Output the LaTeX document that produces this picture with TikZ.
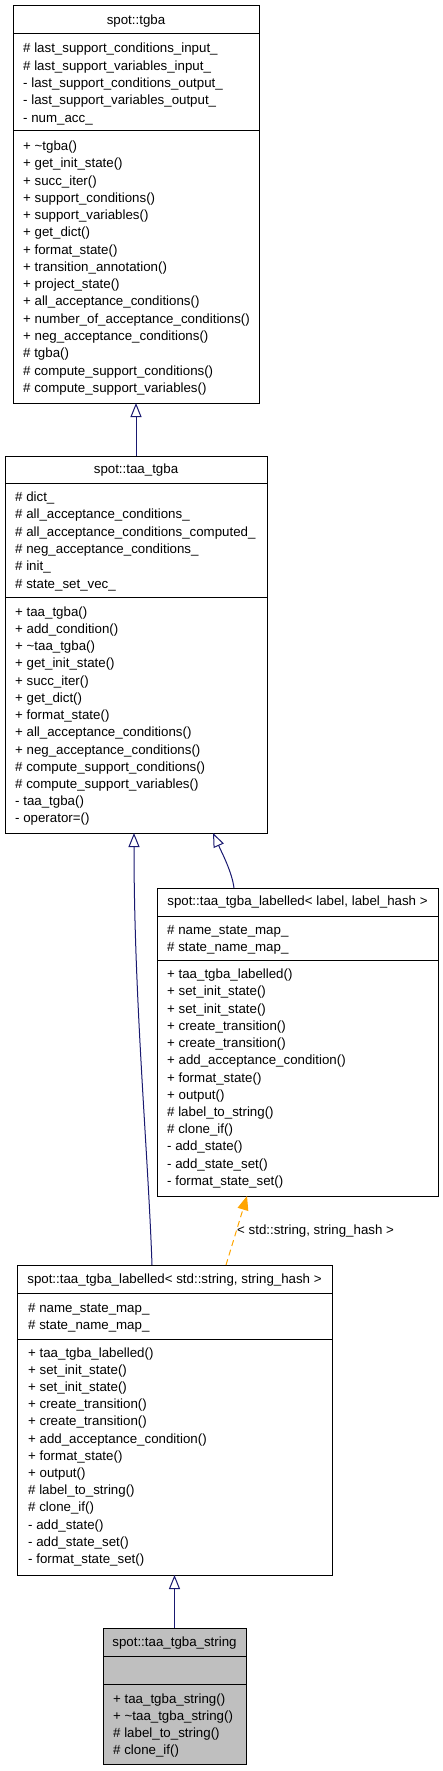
\documentclass[tikz,border=0pt]{standalone}
\usepackage{fontspec}
\setmainfont{Liberation Sans}
\usetikzlibrary{arrows.meta}
\definecolor{navy}{HTML}{191970}
\definecolor{dorange}{HTML}{FFA500}
\definecolor{boxgray}{HTML}{BFBFBF}
\tikzset{
  umlbox/.style={draw=black, line width=1pt, fill=white, anchor=north west, inner sep=0pt, outer sep=0pt},
  sepline/.style={draw=black, line width=1pt},
  member/.style={anchor=base west, inner sep=0pt, font=\fontsize{13.3}{15}\selectfont},
  umltitle/.style={anchor=base, inner sep=0pt, font=\fontsize{13.3}{15}\selectfont},
  inh/.style={draw=navy, line width=1pt, -{Triangle[open, length=14pt, width=11pt, fill=white]}},
  tmpl/.style={draw=dorange, line width=1pt, dash pattern=on 6pt off 4pt, -{Triangle[length=14pt, width=11pt, fill=dorange]}}
}
\begin{document}
\begin{tikzpicture}[x=1pt, y=-1pt]
\useasboundingbox (0,0) rectangle (443,1771);

% ---------- spot::tgba ----------
\node[umlbox, minimum width=246pt, minimum height=397pt] (b1) at (13,6) {};
\draw[sepline] (b1.west |- 0,34) -- (b1.east |- 0,34);
\draw[sepline] (b1.west |- 0,131) -- (b1.east |- 0,131);
\node[umltitle] (b1t) at (136,24.5) {spot::tgba};
\foreach \t [count=\i from 0] in {\# last\_support\_conditions\_input\_, \# last\_support\_variables\_input\_, - last\_support\_conditions\_output\_, - last\_support\_variables\_output\_, - num\_acc\_}
  \node[member] (b1a\i) at (23, 53+\i*17.3) {\t};
\foreach \t [count=\i from 0] in {+ \textasciitilde tgba(), + get\_init\_state(), + succ\_iter(), + support\_conditions(), + support\_variables(), + get\_dict(), + format\_state(), + transition\_annotation(), + project\_state(), + all\_acceptance\_conditions(), + number\_of\_acceptance\_conditions(), + neg\_acceptance\_conditions(), \# tgba(), \# compute\_support\_conditions(), \# compute\_support\_variables()}
  \node[member] (b1m\i) at (23, 150.5+\i*17.27) {\t};

% ---------- spot::taa_tgba ----------
\node[umlbox, minimum width=262pt, minimum height=377pt] (b2) at (5,456) {};
\draw[sepline] (b2.west |- 0,483) -- (b2.east |- 0,483);
\draw[sepline] (b2.west |- 0,597) -- (b2.east |- 0,597);
\node[umltitle] (b2t) at (136,473.5) {spot::taa\_tgba};
\foreach \t [count=\i from 0] in {\# dict\_, \# all\_acceptance\_conditions\_, \# all\_acceptance\_conditions\_computed\_, \# neg\_acceptance\_conditions\_, \# init\_, \# state\_set\_vec\_}
  \node[member] (b2a\i) at (15, 501.5+\i*17.3) {\t};
\foreach \t [count=\i from 0] in {+ taa\_tgba(), + add\_condition(), + \textasciitilde taa\_tgba(), + get\_init\_state(), + succ\_iter(), + get\_dict(), + format\_state(), + all\_acceptance\_conditions(), + neg\_acceptance\_conditions(), \# compute\_support\_conditions(), \# compute\_support\_variables(), - taa\_tgba(), - operator=()}
  \node[member] (b2m\i) at (15, 616.3+\i*17.22) {\t};

% ---------- spot::taa_tgba_labelled< label, label_hash > ----------
\node[umlbox, minimum width=281pt, minimum height=308pt] (b3) at (157,888) {};
\draw[sepline] (b3.west |- 0,916) -- (b3.east |- 0,916);
\draw[sepline] (b3.west |- 0,960) -- (b3.east |- 0,960);
\node[umltitle] (b3t) at (297.5,905) {spot::taa\_tgba\_labelled< label, label\_hash >};
\foreach \t [count=\i from 0] in {\# name\_state\_map\_, \# state\_name\_map\_}
  \node[member] (b3a\i) at (167, 934.5+\i*17.3) {\t};
\foreach \t [count=\i from 0] in {+ taa\_tgba\_labelled(), + set\_init\_state(), + set\_init\_state(), + create\_transition(), + create\_transition(), + add\_acceptance\_condition(), + format\_state(), + output(), \# label\_to\_string(), \# clone\_if(), - add\_state(), - add\_state\_set(), - format\_state\_set()}
  \node[member] (b3m\i) at (167, 978.7+\i*17.22) {\t};

% ---------- spot::taa_tgba_labelled< std::string, string_hash > ----------
\node[umlbox, minimum width=315pt, minimum height=310pt] (b4) at (17,1265) {};
\draw[sepline] (b4.west |- 0,1293) -- (b4.east |- 0,1293);
\draw[sepline] (b4.west |- 0,1339) -- (b4.east |- 0,1339);
\node[umltitle] (b4t) at (174.5,1283) {spot::taa\_tgba\_labelled< std::string, string\_hash >};
\foreach \t [count=\i from 0] in {\# name\_state\_map\_, \# state\_name\_map\_}
  \node[member] (b4a\i) at (28, 1312+\i*17.3) {\t};
\foreach \t [count=\i from 0] in {+ taa\_tgba\_labelled(), + set\_init\_state(), + set\_init\_state(), + create\_transition(), + create\_transition(), + add\_acceptance\_condition(), + format\_state(), + output(), \# label\_to\_string(), \# clone\_if(), - add\_state(), - add\_state\_set(), - format\_state\_set()}
  \node[member] (b4m\i) at (28, 1357+\i*17.22) {\t};

% ---------- spot::taa_tgba_string ----------
\node[umlbox, fill=boxgray, minimum width=143pt, minimum height=136pt] (b5) at (103,1628) {};
\draw[sepline] (b5.west |- 0,1656) -- (b5.east |- 0,1656);
\draw[sepline] (b5.west |- 0,1684) -- (b5.east |- 0,1684);
\node[umltitle] (b5t) at (174.5,1646) {spot::taa\_tgba\_string};
\foreach \t [count=\i from 0] in {+ taa\_tgba\_string(), + \textasciitilde taa\_tgba\_string(), \# label\_to\_string(), \# clone\_if()}
  \node[member] (b5m\i) at (113, 1703+\i*17.3) {\t};

% ---------- connectors ----------
\draw[inh] (b2.north) -- (b1.south);
\draw[inh] (b4.north -| 152,0) .. controls (148,1150) and (134,1000) .. (b2.south -| 134,0);
\draw[inh] (b3.north -| 234,0) .. controls (232,872) and (222,853) .. (b2.south -| 213,0);
\draw[tmpl] (b4.north -| 226,0) -- (b3.south -| 247,0);
\node[member] (tlab) at (237,1234.5) {< std::string, string\_hash >};
\draw[inh] (b5.north) -- (b4.south);
\end{tikzpicture}
\end{document}
